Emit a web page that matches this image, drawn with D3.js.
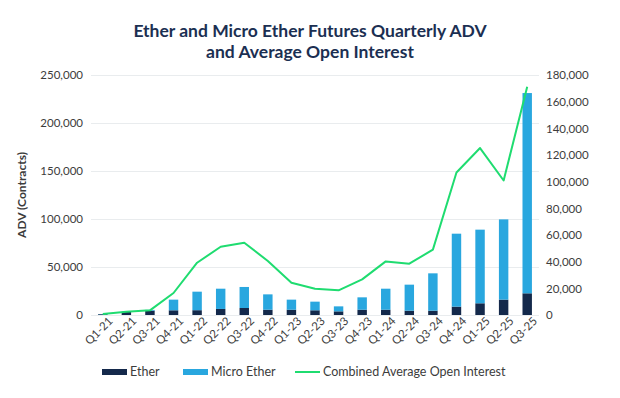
<!DOCTYPE html>
<html>
<head>
<meta charset="utf-8" />
<style>
    body { margin: 0; background: #ffffff; }
    text { font-family: Lato, "Open Sans", sans-serif; }
    .grid line { stroke: #e9ecee; stroke-width: 1px; shape-rendering: crispEdges; }
    .grid path { display: none; }
    .axis path, .axis line { display: none; }
    .axis text { fill: #3c3c3c; font-size: 11.5px; }
</style>
</head>
<body>
<svg id="chart" width="620" height="398"></svg>
<script src="https://d3js.org/d3.v7.min.js"></script>
<script>
// data
var quarters = ["Q1-21", "Q2-21", "Q3-21", "Q4-21", "Q1-22", "Q2-22", "Q3-22", "Q4-22",
    "Q1-23", "Q2-23", "Q3-23", "Q4-23", "Q1-24", "Q2-24", "Q3-24", "Q4-24",
    "Q1-25", "Q2-25", "Q3-25"];
var ether = [800, 3200, 4500, 4900, 5000, 6300, 7300, 5500, 5500, 4900, 3800, 5500,
    5500, 4500, 4500, 8700, 12200, 16000, 22600];
var microEther = [200, 500, 800, 11100, 19300, 21100, 21900, 16000, 10500, 9000, 5200, 12900,
    21900, 27100, 38900, 76000, 76700, 83600, 208600];
var openInterest = [800, 2500, 3500, 16500, 39200, 51200, 54200, 40500, 24200, 19700, 18500, 26700,
    40200, 38500, 49000, 106900, 125200, 100900, 171200];
var leftTicks = [0, 50000, 100000, 150000, 200000, 250000];
var rightTicks = [0, 20000, 40000, 60000, 80000, 100000, 120000, 140000, 160000, 180000];

var svg = d3.select("#chart");
var margin = { top: 75, right: 81, bottom: 83, left: 91 };
var width = 620 - margin.left - margin.right,
    height = 398 - margin.top - margin.bottom;

var g = svg.append("g")
    .attr("transform", "translate(" + margin.left + "," + margin.top + ")");

var x = d3.scaleBand().domain(quarters).range([0, width]).paddingInner(0.6).paddingOuter(0.3);
var yLeft = d3.scaleLinear().domain([0, 250000]).range([height, 0]);
var yRight = d3.scaleLinear().domain([0, 180000]).range([height, 0]);
var fmt = d3.format(",");

// title
svg.append("text").attr("x", 310).attr("y", 37).attr("text-anchor", "middle")
    .attr("font-size", "17.5px").attr("font-weight", "bold").attr("fill", "#1b2f52")
    .text("Ether and Micro Ether Futures Quarterly ADV");
svg.append("text").attr("x", 310).attr("y", 58).attr("text-anchor", "middle")
    .attr("font-size", "17.5px").attr("font-weight", "bold").attr("fill", "#1b2f52")
    .text("and Average Open Interest");

// gridlines
g.append("g").attr("class", "grid")
    .call(d3.axisLeft(yLeft).tickValues(leftTicks).tickSize(-width).tickFormat(""));

// axes
g.append("g").attr("class", "axis")
    .call(d3.axisLeft(yLeft).tickValues(leftTicks).tickFormat(fmt).tickPadding(8))
    .selectAll("text").attr("x", -8);

g.append("g").attr("class", "axis")
    .attr("transform", "translate(" + width + ",0)")
    .call(d3.axisRight(yRight).tickValues(rightTicks).tickFormat(fmt))
    .selectAll("text").attr("x", 7);

g.append("g").attr("class", "axis")
    .attr("transform", "translate(0," + height + ")")
    .call(d3.axisBottom(x))
    .selectAll("text")
    .attr("text-anchor", "end")
    .attr("dx", "-0.1em")
    .attr("dy", "0.9em")
    .attr("y", 2)
    .attr("x", 4)
    .attr("transform", "rotate(-45)");

// axis title
svg.append("text")
    .attr("transform", "translate(26," + (margin.top + height / 2) + ") rotate(-90)")
    .attr("text-anchor", "middle")
    .attr("font-size", "12px").attr("font-weight", "bold").attr("fill", "#3c3c3c")
    .text("ADV (Contracts)");

// stacked bars
var stackData = quarters.map(function(q, i) {
    return { q: q, ether: ether[i], micro: microEther[i] };
});
var series = d3.stack().keys(["ether", "micro"])(stackData);
var colors = { ether: "#14294b", micro: "#29a7df" };

g.selectAll(".layer")
    .data(series)
    .enter().append("g")
    .attr("fill", function(d) { return colors[d.key]; })
    .selectAll("rect")
    .data(function(d) { return d; })
    .enter().append("rect")
    .attr("x", function(d) { return x(d.data.q); })
    .attr("width", x.bandwidth())
    .attr("y", function(d) { return yLeft(d[1]); })
    .attr("height", function(d) { return yLeft(d[0]) - yLeft(d[1]); });

// open interest line
var line = d3.line()
    .x(function(d, i) { return x(quarters[i]) + x.bandwidth() / 2; })
    .y(function(d) { return yRight(d); });

g.append("path")
    .datum(openInterest)
    .attr("fill", "none")
    .attr("stroke", "#1fdc70")
    .attr("stroke-width", 2)
    .attr("stroke-linejoin", "round")
    .attr("d", line);

// legend
var legend = svg.append("g").attr("transform", "translate(0,372)");
var items = [
    { label: "Ether", x: 102, type: "rect", color: colors.ether },
    { label: "Micro Ether", x: 183, type: "rect", color: colors.micro },
    { label: "Combined Average Open Interest", x: 295, type: "line", color: "#1fdc70" }
];
items.forEach(function(it) {
    if (it.type === "rect") {
        legend.append("rect").attr("x", it.x).attr("y", -3).attr("width", 25).attr("height", 6)
            .attr("fill", it.color);
    } else {
        legend.append("line").attr("x1", it.x).attr("x2", it.x + 25).attr("y1", 0).attr("y2", 0)
            .attr("stroke", it.color).attr("stroke-width", 2);
    }
    legend.append("text").attr("x", it.x + 28).attr("y", 4)
        .attr("font-size", "12.5px").attr("fill", "#3c3c3c")
        .text(it.label);
});
</script>
</body>
</html>
